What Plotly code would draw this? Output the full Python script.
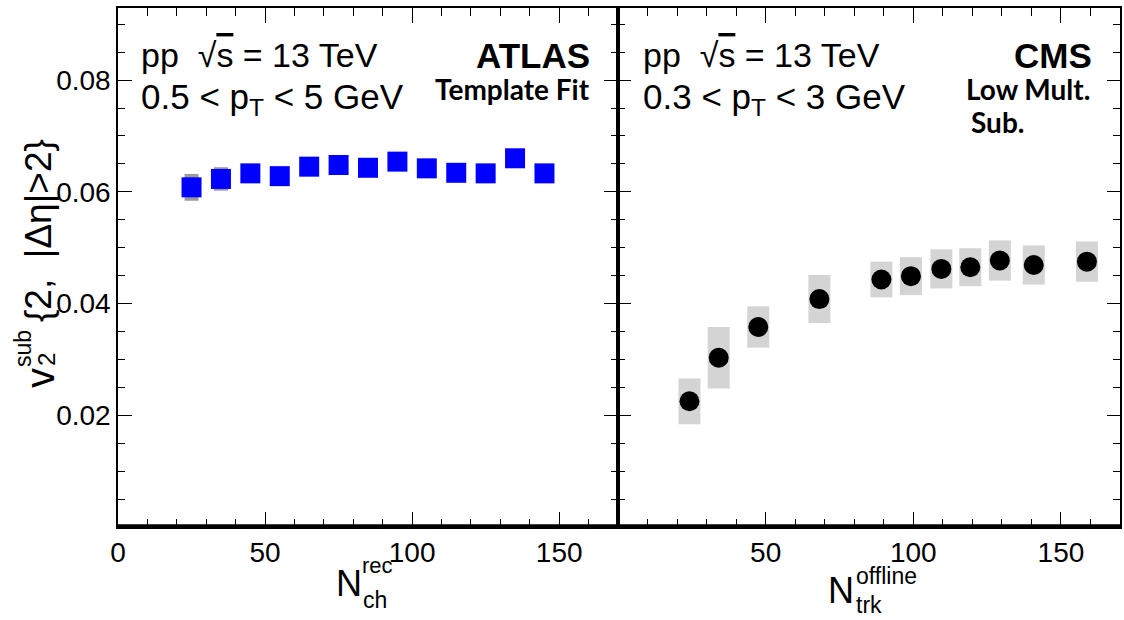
import plotly.graph_objects as go

# ATLAS template-fit v2 vs N_ch^rec
atlas_nch = [25, 35, 45, 55, 65, 75, 85, 95, 105, 115, 125, 135, 145]
atlas_v2 = [0.0608, 0.0623, 0.0633, 0.0628, 0.0645, 0.0648, 0.0643,
            0.0654, 0.0642, 0.0634, 0.0633, 0.0660, 0.0633]
atlas_sys = [0.0024, 0.0021, 0.0012, 0.0012, 0.0012, 0.0012, 0.0012,
             0.0012, 0.0012, 0.0012, 0.0012, 0.0012, 0.0012]

# CMS low-multiplicity-subtracted v2 vs N_trk^offline
cms_ntrk = [24.2, 34.1, 47.5, 68.2, 89.2, 99.2, 109.5, 119.3, 129.3, 140.8, 158.8]
cms_v2 = [0.0225, 0.0303, 0.0358, 0.0408, 0.0443, 0.0449, 0.0462,
          0.0465, 0.0477, 0.0469, 0.0475]
cms_sys = [0.0041, 0.0055, 0.0037, 0.0043, 0.0032, 0.0034, 0.0035,
           0.0034, 0.0036, 0.0035, 0.0036]

x_ticks = [0, 50, 100, 150]
y_ticks = [0.02, 0.04, 0.06, 0.08]
y_tick_text = ["0.02", "0.04", "0.06", "0.08"]

W, H = 1124, 620
FONT = "Liberation Sans, Arial, sans-serif"
LABEL_FONT = "Lato, Open Sans, sans-serif"


def px(x):
    return x / W


def py(y):
    return 1 - y / H


fig = go.Figure()

fig.add_trace(go.Scatter(
    x=atlas_nch, y=atlas_v2, mode="markers",
    marker=dict(symbol="square", size=20, color="#0000ff", line=dict(width=0)),
    error_y=dict(type="data", array=atlas_sys, color="#9a9a9a", thickness=14, width=0),
    xaxis="x", yaxis="y", showlegend=False,
))

fig.add_trace(go.Scatter(
    x=cms_ntrk, y=cms_v2, mode="markers",
    marker=dict(symbol="circle", size=20, color="black", line=dict(width=0)),
    error_y=dict(type="data", array=cms_sys, color="#d4d4d4", thickness=22, width=0),
    xaxis="x2", yaxis="y2", showlegend=False,
))

axis_common = dict(
    showgrid=False, zeroline=False, showline=True, linecolor="black", linewidth=1.5,
    mirror="ticks", ticks="inside", tickcolor="black", tickwidth=1.3,
    automargin=False,
    tickfont=dict(family=FONT, size=28, color="black"),
)

x_minor = dict(ticks="inside", ticklen=8, tickcolor="black", tickwidth=1.2,
               tickmode="linear", tick0=0, dtick=10, showgrid=False)
y_minor = dict(ticks="inside", ticklen=7, tickcolor="black", tickwidth=1.2,
               tickmode="linear", tick0=0, dtick=0.005, showgrid=False)

yr = [0, 0.0929]

fig.update_layout(
    width=W, height=H,
    margin=dict(l=0, r=0, t=0, b=0, pad=0, autoexpand=False),
    showlegend=False,
    paper_bgcolor="white", plot_bgcolor="white",
    xaxis=dict(domain=[px(118), px(618)], range=[0, 170], tickvals=x_ticks,
               ticklen=15, minor=x_minor, anchor="y", **axis_common),
    yaxis=dict(domain=[py(527), py(8)], range=yr, tickvals=y_ticks,
               ticktext=y_tick_text, ticklen=14, minor=y_minor, anchor="x",
               **axis_common),
    xaxis2=dict(domain=[px(618), px(1120)], range=[0, 170], tickvals=x_ticks[1:],
                ticklen=15, minor=x_minor, anchor="y2", **axis_common),
    yaxis2=dict(domain=[py(527), py(8)], range=yr, tickvals=y_ticks,
                showticklabels=False, ticklen=13, minor=y_minor, anchor="x2",
                **axis_common),
)

# heavy baseline across both panels
fig.add_shape(type="line", xref="paper", yref="y", x0=px(117), x1=px(1121),
              y0=0, y1=0, line=dict(color="black", width=5.5), layer="above")

ann = []


def text(x, y, s, size, xanchor="left", font=FONT, angle=0, yanchor="middle"):
    ann.append(dict(x=px(x), y=py(y), xref="paper", yref="paper", text=s,
                    showarrow=False, xanchor=xanchor, yanchor=yanchor,
                    textangle=angle,
                    font=dict(family=font, size=size, color="black")))


sqrt_s = "pp  √<span style='text-decoration:overline'>s</span> = 13 TeV"

# left panel labels
text(139, 55, sqrt_s, 34)
text(139, 99, "0.5 < p<sub>T</sub> < 5 GeV", 35)
text(592, 55, "<b>ATLAS</b>", 35, xanchor="right")
text(592, 89, "<b>Template Fit</b>", 28, xanchor="right", font=LABEL_FONT)

# right panel labels
text(641, 55, sqrt_s, 34)
text(641, 99, "0.3 < p<sub>T</sub> < 3 GeV", 35)
text(1094, 55, "<b>CMS</b>", 35, xanchor="right")
text(964, 89, "<b>Low Mult.</b>", 28, font=LABEL_FONT)
text(969, 122, "<b>Sub.</b>", 28, font=LABEL_FONT)

# x-axis titles with stacked sub/superscripts
text(364, 583, "N", 36, xanchor="right")
text(360, 565, "rec", 22)
text(361, 600, "ch", 23)
text(856, 590, "N", 36, xanchor="right")
text(854, 576, "offline", 23)
text(854, 605, "trk", 23)

# y-axis title, rotated
text(40, 378, "v", 40, xanchor="center", angle=-90)
text(46, 360, "2", 24, xanchor="center", angle=-90)
text(23, 349, "sub", 23, xanchor="center", angle=-90)
text(38, 231, "{2,  |Δη|>2}", 37, xanchor="center", angle=-90)

fig.update_layout(annotations=ann)

fig.write_html("out.html")
